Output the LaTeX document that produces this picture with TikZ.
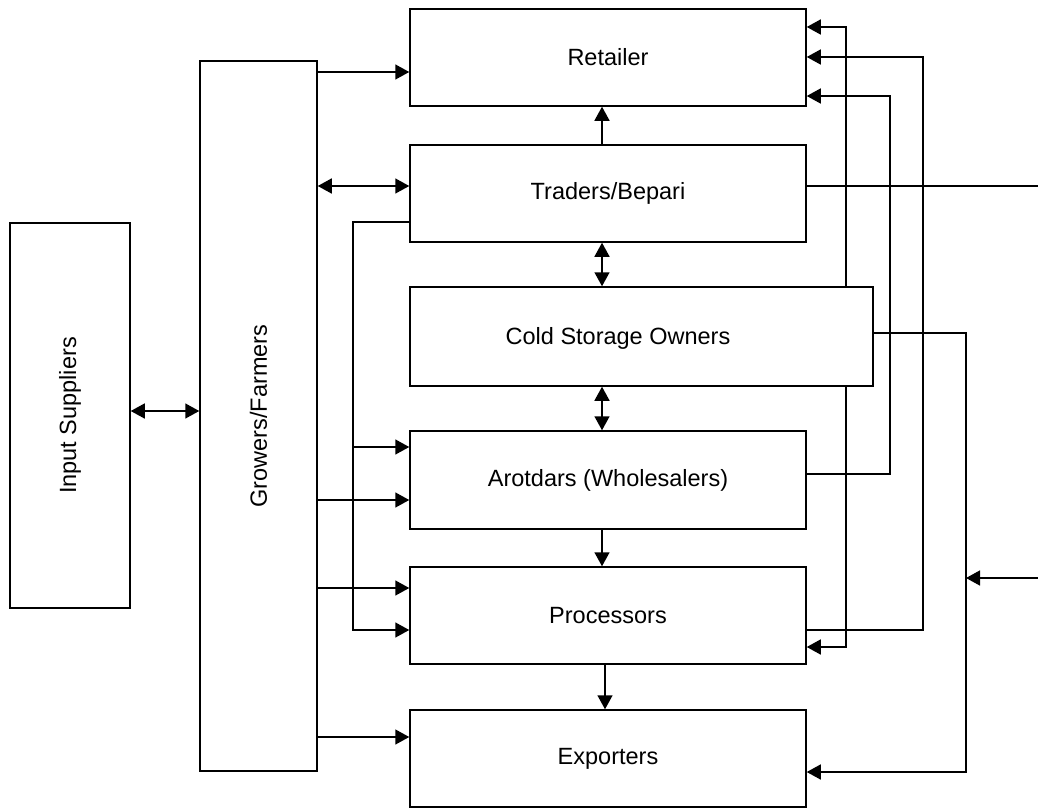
\documentclass[tikz,border=0pt]{standalone}
\usepackage{fontspec}
\setmainfont{Liberation Sans}
\usetikzlibrary{arrows.meta,positioning,calc}

\begin{document}
\begin{tikzpicture}[x=1pt,y=-1pt,
  box/.style={draw=black,line width=1.5pt,fill=white,inner sep=0pt,
    minimum width=396pt,minimum height=97pt,font=\fontsize{23.5}{27}\selectfont},
  link/.style={line width=1.5pt},
  arr/.style={link,-{Triangle[length=14pt,width=15pt]}},
  dbl/.style={link,{Triangle[length=14pt,width=15pt]}-{Triangle[length=14pt,width=15pt]}}]
\useasboundingbox (0,0) rectangle (1038,808);
\node[box,minimum width=120pt,minimum height=385pt] (inp) at (70,415.5) {\rotatebox{90}{Input Suppliers}};
\node[box,minimum width=117pt,minimum height=710pt] (grow) at (258.5,416) {\rotatebox{90}{Growers/Farmers}};
\node[box] (ret) at (608,57.5) {Retailer};
\node[box] (trad) at (608,193.5) {Traders/Bepari};
\node[box,minimum width=463pt,minimum height=99pt] (cold) at (641.5,336.5) {};
\node (coldtxt) at (618,338) {\fontsize{23.5}{27}\selectfont Cold Storage Owners};
\node[box,minimum height=98pt] (arot) at (608,480) {Arotdars (Wholesalers)};
\node[box] (proc) at (608,615.5) {Processors};
\node[box] (expo) at (608,758.5) {Exporters};
\coordinate (tradout) at (1038,186);
\coordinate (tradin) at (1038,578);
\draw[dbl] (inp.east |- 0,411) -- (grow.west |- 0,411);
\draw[arr] (grow.east |- 0,72) -- (ret.west |- 0,72);
\draw[dbl] (grow.east |- 0,186) -- (trad.west |- 0,186);
\draw[arr] (grow.east |- 0,500) -- (arot.west |- 0,500);
\draw[arr] (grow.east |- 0,588) -- (proc.west |- 0,588);
\draw[arr] (grow.east |- 0,737) -- (expo.west |- 0,737);
\draw[arr] (trad.west |- 0,222) -- (353,222) -- (353,630) -- (proc.west |- 0,630);
\draw[arr] (353,447) -- (arot.west |- 0,447);
\draw[arr] (trad.north -| 602,0) -- (ret.south -| 602,0);
\draw[dbl] (trad.south -| 602,0) -- (cold.north -| 602,0);
\draw[dbl] (cold.south -| 602,0) -- (arot.north -| 602,0);
\draw[arr] (arot.south -| 602,0) -- (proc.north -| 602,0);
\draw[arr] (proc.south -| 605,0) -- (expo.north -| 605,0);
\draw[arr] (cold.north -| 846,0) -- (846,27) -- (ret.east |- 0,27);
\draw[arr] (cold.south -| 846,0) -- (846,647) -- (proc.east |- 0,647);
\draw[arr] (proc.east |- 0,630) -- (923,630) -- (923,57) -- (ret.east |- 0,57);
\draw[arr] (arot.east |- 0,474) -- (890,474) -- (890,96) -- (ret.east |- 0,96);
\draw[link] (trad.east |- tradout) -- (tradout);
\draw[arr] (cold.east |- 0,333) -- (966,333) -- (966,772) -- (expo.east |- 0,772);
\draw[arr] (tradin) -- (966,578);
\end{tikzpicture}
\end{document}
